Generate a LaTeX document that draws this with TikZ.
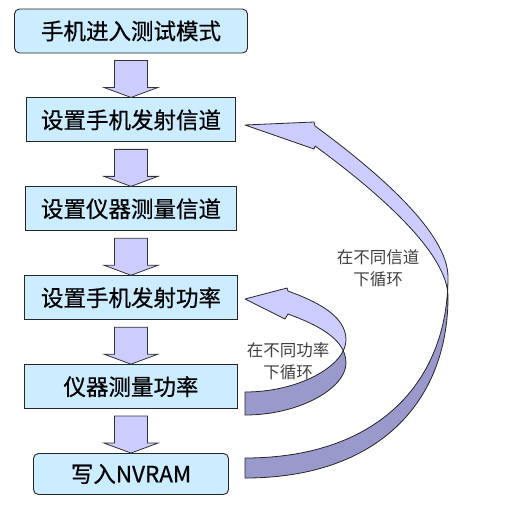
\documentclass[tikz,border=0pt]{standalone}
\usepackage{fontspec}
\newfontfamily\cjk{Noto Sans CJK SC}
\newfontfamily\cjkbox[FakeBold=0.6]{Noto Sans CJK SC}
\usepackage{xcolor}
\usetikzlibrary{positioning, calc, intersections}

\definecolor{boxblue}{RGB}{204,236,255}
\definecolor{lilac}{RGB}{204,204,255}
\definecolor{lilacdark}{RGB}{153,153,204}
\definecolor{loopgray}{RGB}{64,64,64}

\newcommand{\blockdown}[2]{%
  \draw[blockarrow] ($(#1.south)+(-16.5,7)$) -- ($(#2.north)+(-16.5,-10)$)
    -- ($(#2.north)+(-27,-10)$) -- (#2.north) -- ($(#2.north)+(27,-10)$)
    -- ($(#2.north)+(16.5,-10)$) -- ($(#1.south)+(16.5,7)$) -- cycle;}

\newcommand{\bigribbon}{(315,126) -- (314,122) -- (245,125) -- (314,149) -- (315,146)
  .. controls (375,190) and (448,252) .. (448,297)
  .. controls (448,400) and (380,478) .. (245,478) -- (245,458)
  .. controls (380,458) and (448,380) .. (448,277)
  .. controls (448,232) and (375,170) .. (315,126) -- cycle}

\newcommand{\smallribbon}{(288,291) -- (287,288) -- (245,299) -- (285,319) -- (288,314)
  .. controls (315,324) and (346,338) .. (346,363)
  .. controls (346,388) and (300,415) .. (245,415) -- (245,392)
  .. controls (300,392) and (346,365) .. (346,340)
  .. controls (346,315) and (315,301) .. (288,291) -- cycle}

\begin{document}
\begin{tikzpicture}[
      x=1pt, y=-1pt,
      stage/.style={draw=black!85, line width=0.9pt, fill=boxblue, minimum height=44pt, inner sep=0pt, font=\cjkbox\fontsize{22.5}{26}\selectfont},
      roundstage/.style={stage, rounded corners=5pt},
      blockarrow/.style={draw=black!80, line width=0.8pt, fill=lilac},
      ribbonedge/.style={draw=black!85, line width=0.8pt, line join=round},
      looptext/.style={align=center, text=loopgray, font=\cjk\fontsize{16.5}{22}\selectfont}
    ]
    \useasboundingbox (0,0) rectangle (505,504);

    \node[roundstage, minimum width=233pt] (enter) at (131,31) {手机进入测试模式};
    \node[stage, minimum width=209pt, below=44pt of enter] (txchan) {设置手机发射信道};
    \node[stage, minimum width=211pt, below=44pt of txchan] (meachan) {设置仪器测量信道};
    \node[stage, minimum width=213pt, below=44pt of meachan] (txpow) {设置手机发射功率};
    \node[stage, minimum width=213pt, below=44pt of txpow] (meapow) {仪器测量功率};
    \node[roundstage, minimum width=195pt, minimum height=41pt, below=44pt of meapow] (nvram) {写入NVRAM};

    \foreach \a/\b in {enter/txchan, txchan/meachan, meachan/txpow, txpow/meapow, meapow/nvram}
      \blockdown{\a}{\b};

    \coordinate (farright) at (505,0);
    \coordinate (farleft) at (0,504);

    \path[name path=bigtop] (315,126) .. controls (375,170) and (448,232) .. (448,277)
      .. controls (448,380) and (380,458) .. (245,458);
    \path[name path=bigbot] (315,146) .. controls (375,190) and (448,252) .. (448,297)
      .. controls (448,400) and (380,478) .. (245,478);
    \path[name intersections={of=bigtop and bigbot, by=bigcross}];

    \path[name path=smalltop] (288,291) .. controls (315,301) and (346,315) .. (346,340)
      .. controls (346,365) and (300,392) .. (245,392);
    \path[name path=smallbot] (288,314) .. controls (315,324) and (346,338) .. (346,363)
      .. controls (346,388) and (300,415) .. (245,415);
    \path[name intersections={of=smalltop and smallbot, by=smallcross}];

    \begin{scope}
      \clip (0,0) rectangle (farright |- bigcross);
      \fill[lilac] \bigribbon;
    \end{scope}
    \begin{scope}
      \clip (farleft) rectangle (farright |- bigcross);
      \fill[lilacdark] \bigribbon;
    \end{scope}
    \draw[ribbonedge] \bigribbon;

    \begin{scope}
      \clip (0,0) rectangle (farright |- smallcross);
      \fill[lilac] \smallribbon;
    \end{scope}
    \begin{scope}
      \clip (farleft) rectangle (farright |- smallcross);
      \fill[lilacdark] \smallribbon;
    \end{scope}
    \draw[ribbonedge] \smallribbon;

    \node[looptext] (chanloop) at (378,268) {在不同信道\\下循环};
    \node[looptext] (powloop) at (288,361) {在不同功率\\下循环};
  \end{tikzpicture}
\end{document}
